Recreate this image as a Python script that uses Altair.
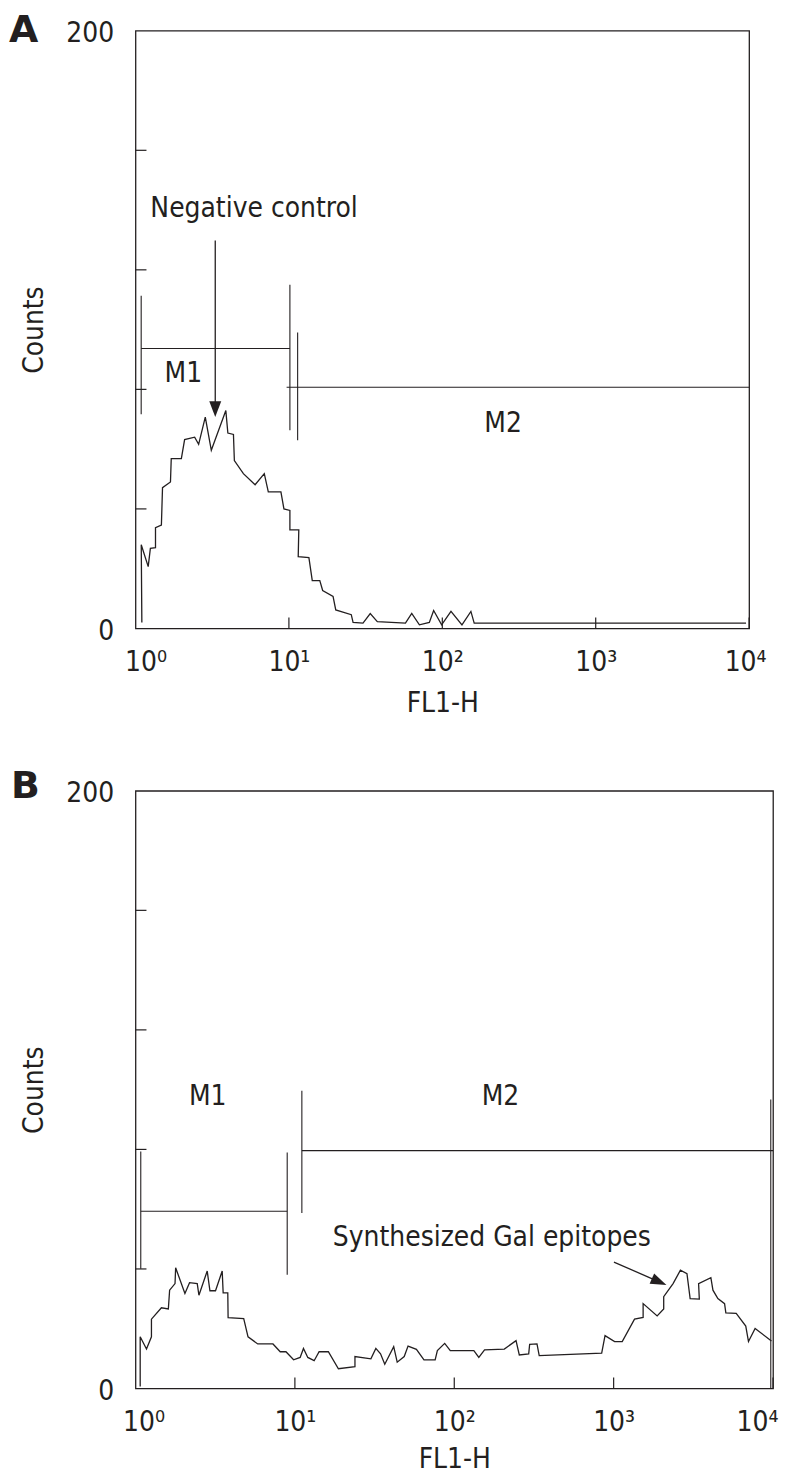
import altair as alt
import pandas as pd

INK = "#231f20"
FONT = "DejaVu Sans Condensed"
FS = 28

# ---------------- data ----------------
# Panel A histogram (FL1-H value, counts)
a_x = [1.10, 1.09, 1.21, 1.25, 1.35, 1.35, 1.475, 1.50, 1.69, 1.71, 1.99, 2.09, 2.43, 2.58,
       2.85, 3.12, 3.88, 4.00, 4.35, 4.41, 5.05, 6.02, 6.91, 7.34, 8.87, 9.28, 10.15, 10.15,
       11.6, 11.5, 13.5, 14.2, 15.9, 16.6, 19.4, 20.2, 25.5, 26.2, 30.4, 33.9, 37.7, 57.5,
       63.2, 70.9, 82.3, 87.8, 99, 113.9, 134.3, 153.6, 161.4, 9550]
a_y = [2, 28, 20.7, 26.8, 27, 33.7, 34.6, 47.1, 49, 56.8, 56.8, 63.2, 64, 61.6,
       70.7, 59.6, 72.9, 65.4, 64.9, 56.2, 51.8, 48.1, 51.8, 45.7, 45.7, 40, 39.5, 33,
       33, 24, 23.7, 16, 16, 12.7, 10.7, 6.2, 4.6, 2, 1.8, 5, 2.3, 1.8,
       5, 1.2, 2, 6, 1.2, 5.7, 1.2, 5.7, 1.8, 1.8]

# Panel B histogram
b_x = [1.07, 1.07, 1.172, 1.259, 1.259, 1.454, 1.607, 1.637, 1.77, 1.786,
       2.042, 2.183, 2.44, 2.5, 2.818, 2.931, 3.177, 3.499, 3.548, 3.793,
       3.811, 4.775, 5.082, 5.848, 7.286, 8.091, 8.79, 9.817, 10.79, 11.32,
       12.05, 13.21, 14.19, 16.22, 18.75, 23.82, 23.82, 29.99, 32.21, 34.47,
       36.64, 41.69, 43.85, 48.53, 51.29, 57.88, 64.57, 75.86, 78.34, 87.1,
       94.4, 132.7, 142.6, 154.9, 206.1, 244.1, 255.9, 293.1, 297.2, 330.4,
       341.2, 841.4, 883.1, 1014, 1132, 1352, 1531, 1531, 1875, 2061,
       2061, 2360, 2624, 2884, 3020, 3448, 3412, 4074, 4198, 4508,
       4966, 5058, 5875, 6745, 7015, 7720, 9772]
b_y = [0.7, 17.3, 13.2, 17.3, 23.2, 27, 26.6, 32.9, 35.1, 40.4,
       31.8, 35.4, 35.1, 31.2, 39.3, 32.7, 32.7, 39.3, 32, 32,
       23.7, 23.4, 17.3, 14.9, 14.9, 12.3, 12.3, 9.6, 10.4, 13.4,
       10.4, 9.3, 12.3, 12.3, 6.6, 7.3, 10.7, 9.9, 13.4, 11.6,
       8.1, 14, 8.8, 10.7, 14.2, 13.1, 9.6, 9.6, 12.7, 15.1,
       12.7, 12.7, 10.4, 12.9, 13.2, 16, 11.2, 11.6, 14.8, 14.9,
       11, 11.8, 17.7, 15.7, 15.7, 23.2, 23.8, 28.4, 24.3, 26.6,
       30.7, 35.1, 39.6, 38.4, 30.1, 29.9, 35.1, 37.1, 32.9, 30.1,
       28.4, 25.3, 25.1, 20.9, 15.7, 20.1, 15.9]

# Marker gates: horizontal bars (x start, x end, y) and vertical ends (x, y low, y high)
a_h_x1 = [1.089, 9.66]
a_h_x2 = [10.15, 10000]
a_h_y = [93.7, 80.7]
a_v_x = [1.089, 10.15, 11.4]
a_v_y1 = [71.7, 66.3, 63]
a_v_y2 = [111.3, 115, 99]

b_h_x1 = [1.079, 11.06]
b_h_x2 = [8.95, 10000]
b_h_y = [59.3, 79.6]
b_v_x = [1.079, 8.95, 11.06, 9680]
b_v_y1 = [40.1, 38.1, 58.7, 0]
b_v_y2 = [79.3, 79, 99.6, 96.7]

# Gate labels
gate_names = ["M1", "M2"]
a_gate_x = [2.05, 249]
a_gate_y = [85.2, 68.5]
b_gate_x = [2.84, 195]
b_gate_y = [97.5, 97.5]

# Annotations
a_note = ["Negative control"]
a_note_x = [1.25]
a_note_y = [140.2]
a_arrow_x = [3.31, 3.31]
a_arrow_y = [129.8, 74]
a_head_x = [3.31]
a_head_y = [73.4]

b_note = ["Synthesized Gal epitopes"]
b_note_x = [17.3]
b_note_y = [50.5]
b_arrow_x = [1004, 1930]
b_arrow_y = [42.3, 35.7]
b_head_x = [1930]
b_head_y = [35.7]

# Axes
y_label_values = [0, 200]
y_tick_values = [40, 80, 120, 160]
x_label_values = [1, 10, 100, 1000, 10000]
x_tick_values = [10, 100, 1000, 10000]
letters = ["A", "B"]

# ---------------- helpers ----------------
XS = alt.Scale(type="log", domain=[1, 10000], nice=False)
YS = alt.Scale(domain=[0, 200], nice=False, zero=True)

LABEL_EXPR = ("'10' + (datum.value == 1 ? '\u2070' : datum.value == 10 ? '\u00b9' : "
              "datum.value == 100 ? '\u00b2' : datum.value == 1000 ? '\u00b3' : '\u2074')")


def x_axis(off_first, off_last, title_y):
    return alt.Axis(
        values=x_label_values, labelExpr=LABEL_EXPR, title="FL1-H",
        ticks=True, tickSize=0, tickOpacity=0, domain=False, grid=False,
        labelPadding=20, labelFlush=False, labelOverlap=False,
        labelOffset={"condition": [{"test": "datum.value == 1", "value": off_first},
                                   {"test": "datum.value == 10000", "value": off_last}],
                     "value": 0},
        labelFont=FONT, labelFontSize=FS, labelColor=INK,
        titleFont=FONT, titleFontSize=FS, titleFontWeight="normal", titleColor=INK,
        titleY=title_y,
    )


def y_axis():
    return alt.Axis(
        values=y_label_values, title="Counts",
        ticks=True, tickSize=0, tickOpacity=0, domain=False, grid=False,
        labelPadding=22, labelOffset=3, labelOverlap=False,
        labelFont=FONT, labelFontSize=FS, labelColor=INK,
        titleFont=FONT, titleFontSize=FS, titleFontWeight="normal", titleColor=INK,
        titleX=-101, titleY=300, titleBaseline="middle",
    )


def panel(hx, hy, h_x1, h_x2, h_y, v_x, v_y1, v_y2, gx, gy,
          note, note_x, note_y, arr_x, arr_y, head_x, head_y, head_shape, head_angle,
          letter, letter_dx, letter_dy, width, off_first, off_last, title_y):
    xax = x_axis(off_first, off_last, title_y)
    yax = y_axis()

    def X(field):
        return alt.X(field, type="quantitative", scale=XS, axis=xax)

    def Y(field):
        return alt.Y(field, type="quantitative", scale=YS, axis=yax)

    hist_df = pd.DataFrame({"v": hx, "c": hy, "i": list(range(len(hx)))})
    hist = alt.Chart(hist_df).mark_line(color=INK, strokeWidth=1.3).encode(
        x=X("v"), y=Y("c"), order="i:Q")
    yt = alt.Chart(pd.DataFrame({"t": y_tick_values})).mark_rule(
        color=INK, strokeWidth=1.2).encode(
        y=Y("t"), x=alt.value(0), x2=alt.value(11))
    xt = alt.Chart(pd.DataFrame({"t": x_tick_values})).mark_rule(
        color=INK, strokeWidth=1.2).encode(
        x=X("t"), y=alt.value(600), y2=alt.value(589))
    hb = alt.Chart(pd.DataFrame({"x1": h_x1, "x2": h_x2, "y": h_y})).mark_rule(
        color=INK, strokeWidth=1.1).encode(x=X("x1"), x2="x2:Q", y=Y("y"))
    vb = alt.Chart(pd.DataFrame({"x": v_x, "y1": v_y1, "y2": v_y2})).mark_rule(
        color=INK, strokeWidth=1.1).encode(x=X("x"), y=Y("y1"), y2="y2:Q")
    gl = alt.Chart(pd.DataFrame({"x": gx, "y": gy, "t": gate_names})).mark_text(
        font=FONT, fontSize=FS, color=INK, align="center", baseline="middle").encode(
        x=X("x"), y=Y("y"), text="t:N")
    nt = alt.Chart(pd.DataFrame({"x": note_x, "y": note_y, "t": note})).mark_text(
        font=FONT, fontSize=FS, color=INK, align="left", baseline="middle").encode(
        x=X("x"), y=Y("y"), text="t:N")
    arr = alt.Chart(pd.DataFrame({"x": arr_x, "y": arr_y, "i": [0, 1]})).mark_line(
        color=INK, strokeWidth=1.3).encode(x=X("x"), y=Y("y"), order="i:Q")
    head = alt.Chart(pd.DataFrame({"x": head_x, "y": head_y})).mark_point(
        shape=head_shape, size=256, filled=True, color=INK, opacity=1,
        strokeWidth=0, angle=head_angle).encode(x=X("x"), y=Y("y"))
    let = alt.Chart(pd.DataFrame({"t": [letter]})).mark_text(
        font="DejaVu Sans", fontWeight="bold", fontSize=38, color=INK,
        align="left", baseline="top").encode(
        x=alt.value(letter_dx), y=alt.value(letter_dy), text="t:N")
    return alt.layer(hist, yt, xt, hb, vb, gl, nt, arr, head, let).properties(
        width=width, height=600)


panel_a = panel(a_x, a_y, a_h_x1, a_h_x2, a_h_y, a_v_x, a_v_y1, a_v_y2,
                a_gate_x, a_gate_y, a_note, a_note_x, a_note_y,
                a_arrow_x, a_arrow_y, a_head_x, a_head_y,
                "M-0.75,-1L0.75,-1L0,1Z", 0, letters[0], -127, -19, 616,
                10, -4, 61)

panel_b = panel(b_x, b_y, b_h_x1, b_h_x2, b_h_y, b_v_x, b_v_y1, b_v_y2,
                b_gate_x, b_gate_y, b_note, b_note_x, b_note_y,
                b_arrow_x, b_arrow_y, b_head_x, b_head_y,
                "M-1,-0.7L1,0L-1,0.7Z", 24, letters[1], -125, -23, 640,
                8, -16, 57)

chart = alt.vconcat(panel_a, panel_b, spacing=49, padding=0, background="white").configure_view(
    stroke=INK, strokeWidth=1.3)

chart.save("out.html", embed_options={"renderer": "svg", "actions": False})
